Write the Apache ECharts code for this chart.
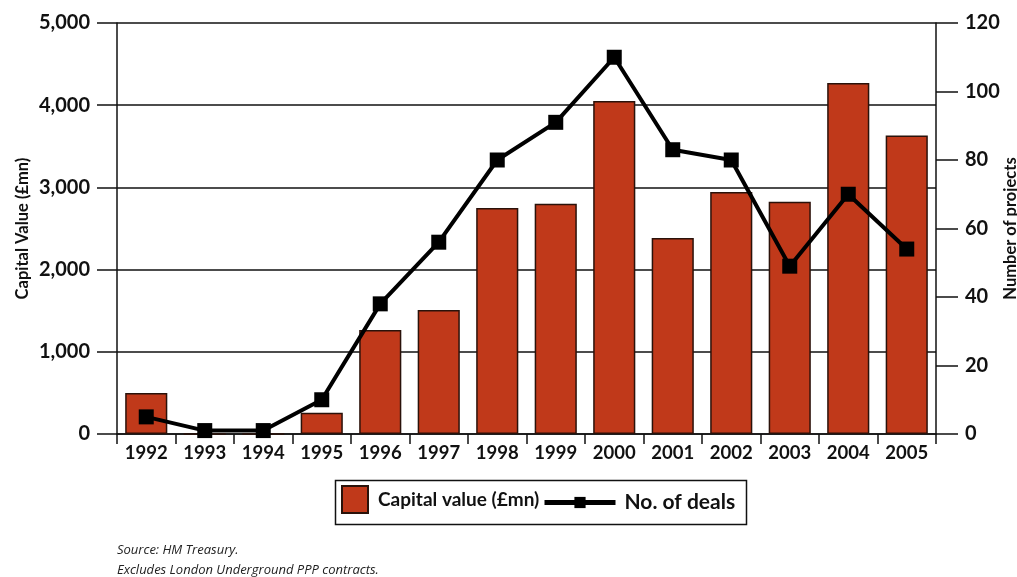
<!DOCTYPE html>
<html>
<head>
<meta charset="utf-8">
<script src="https://cdn.jsdelivr.net/npm/echarts@6/dist/echarts.min.js"></script>
<style>html,body{margin:0;padding:0;background:#fff;}#c{width:1017px;height:577px;}</style>
</head>
<body>
<div id="c"></div>
<script>
const years = ['1992','1993','1994','1995','1996','1997','1998','1999','2000','2001','2002','2003','2004','2005'];
const capitalValue = [500, 0, 0, 260, 1265, 1510, 2750, 2800, 4050, 2385, 2945, 2825, 4270, 3630];
const numDeals = [5, 1, 1, 10, 38, 56, 80, 91, 110, 83, 80, 49, 70, 54];
const leftTicks = {min: 0, max: 5000, interval: 1000};
const rightTicks = {min: 0, max: 120, interval: 20};

const FONT = 'Lato, "Open Sans", sans-serif';
const chart = echarts.init(document.getElementById('c'), null, {renderer: 'canvas'});
chart.setOption({
  backgroundColor: '#fff',
  animation: false,
  grid: {left: 117, right: 81, top: 23, bottom: 143, containLabel: false, outerBoundsMode: 'none'},
  xAxis: {
    type: 'category', data: years, boundaryGap: true,
    axisLine: {show: true, lineStyle: {color: '#111', width: 1.5}},
    axisTick: {show: true, interval: 0, length: 10, lineStyle: {color: '#111', width: 1.5}},
    axisLabel: {interval: 0, margin: 10, color: '#111', fontFamily: FONT, fontWeight: 'bold', fontSize: 18.5}
  },
  yAxis: [{
    type: 'value', min: leftTicks.min, max: leftTicks.max, interval: leftTicks.interval,
    name: 'Capital Value (£mn)', nameLocation: 'middle', nameGap: 86, nameRotate: 90,
    nameMoveOverlap: false,
    nameTextStyle: {color: '#111', fontFamily: FONT, fontWeight: 'bold', fontSize: 16.5},
    axisLine: {show: true, lineStyle: {color: '#111', width: 1.5}},
    axisTick: {show: true, length: 20, lineStyle: {color: '#111', width: 1.5}},
    splitLine: {show: true, lineStyle: {color: '#111', width: 1.5}},
    axisLabel: {margin: 27, color: '#111', fontFamily: FONT, fontWeight: 'bold', fontSize: 20,
      formatter: v => v.toLocaleString('en-GB')}
  }, {
    type: 'value', min: rightTicks.min, max: rightTicks.max, interval: rightTicks.interval,
    position: 'right',
    name: 'Number of projects', nameLocation: 'middle', nameGap: 66, nameRotate: 90,
    nameMoveOverlap: false,
    nameTextStyle: {color: '#111', fontFamily: FONT, fontWeight: 'bold', fontSize: 16.5},
    axisLine: {show: true, lineStyle: {color: '#111', width: 1.5}},
    axisTick: {show: true, length: 22, lineStyle: {color: '#111', width: 1.5}},
    splitLine: {show: false},
    axisLabel: {margin: 29, color: '#111', fontFamily: FONT, fontWeight: 'bold', fontSize: 20}
  }],
  legend: [{
    data: [{name: 'Capital value (£mn)', icon: 'rect'}],
    left: 341, top: 485, itemWidth: 26, itemHeight: 27, padding: 0,
    textStyle: {color: '#111', fontFamily: FONT, fontWeight: 'bold', fontSize: 19, padding: [0, 0, 0, 5]}
  }, {
    data: ['No. of deals'],
    left: 542, top: 492, itemWidth: 71, itemHeight: 14, padding: 0,
    lineStyle: {width: 5},
    textStyle: {color: '#111', fontFamily: FONT, fontWeight: 'bold', fontSize: 21, padding: [0, 0, 0, 4]}
  }],
  graphic: [
    {type: 'rect', left: 333, top: 478, shape: {width: 411, height: 44},
      style: {fill: 'none', stroke: '#111', lineWidth: 1.5}, silent: true, z: 10},
    {type: 'text', left: 117, top: 540,
      style: {text: 'Source: HM Treasury.\nExcludes London Underground PPP contracts.', fill: '#222',
        font: 'italic 13px "Open Sans", sans-serif', lineHeight: 20}}
  ],
  series: [{
    name: 'Capital value (£mn)', type: 'bar', yAxisIndex: 0, data: capitalValue,
    barWidth: '72%',
    itemStyle: {color: '#C0391A', borderColor: '#2a120a', borderWidth: 1.5}
  }, {
    name: 'No. of deals', type: 'line', yAxisIndex: 1, data: numDeals,
    symbol: 'rect', symbolSize: 15,
    lineStyle: {color: '#000', width: 4},
    itemStyle: {color: '#000'}, z: 5
  }]
});
</script>
</body>
</html>
